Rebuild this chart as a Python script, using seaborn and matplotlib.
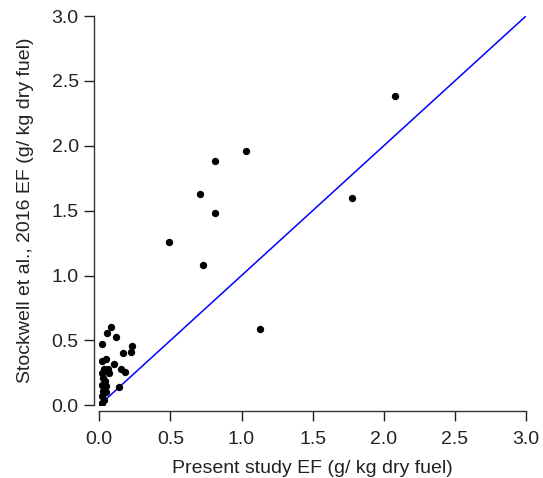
import pandas as pd
import matplotlib
matplotlib.use('Agg')
import matplotlib.pyplot as plt
import seaborn as sns

# Present study EF vs Stockwell et al. 2016 EF (g/ kg dry fuel)
present_ef = [2.08, 1.78, 1.13, 1.03, 0.81, 0.81, 0.71, 0.73, 0.49,
              0.08, 0.056, 0.12, 0.02, 0.23, 0.22, 0.17, 0.044, 0.016,
              0.105, 0.03, 0.063, 0.15, 0.18, 0.016, 0.07, 0.026, 0.04,
              0.016, 0.05, 0.14, 0.026, 0.044, 0.02, 0.03, 0.016, 0.01]
stockwell_ef = [2.38, 1.60, 0.59, 1.96, 1.88, 1.48, 1.63, 1.08, 1.26,
                0.60, 0.56, 0.53, 0.47, 0.46, 0.41, 0.40, 0.36, 0.34,
                0.32, 0.28, 0.28, 0.28, 0.26, 0.25, 0.25, 0.21, 0.19,
                0.16, 0.15, 0.14, 0.11, 0.10, 0.07, 0.04, 0.015, 0.0]
one_to_one = [0, 3]
ticks = [0.0, 0.5, 1.0, 1.5, 2.0, 2.5, 3.0]

df = pd.DataFrame({'present': present_ef, 'stockwell': stockwell_ef})

sns.set_style('ticks')
plt.rcParams['font.family'] = ['Liberation Sans', 'DejaVu Sans']

fig = plt.figure(figsize=(5.43, 4.78), dpi=100)
ax = fig.add_axes([99.3 / 543, 72.7 / 478, 426.7 / 543, 389.3 / 478])

sns.lineplot(x=one_to_one, y=one_to_one, color='#0000ff', linewidth=1.1, ax=ax)
sns.scatterplot(data=df, x='present', y='stockwell', color='black', s=28,
                edgecolor='black', linewidth=0, ax=ax, zorder=3)

ax.set_xlim(0, 3)
ax.set_ylim(0, 3)
ax.set_xticks(ticks)
ax.set_yticks(ticks)
ax.set_xticklabels([f'{t:.1f}' for t in ticks])
ax.set_yticklabels([f'{t:.1f}' for t in ticks])
ax.tick_params(labelsize=14, length=7.2, width=1, direction='out', colors='#222222')
ax.tick_params(axis='x', pad=7)
ax.tick_params(axis='y', pad=4)
ax.spines['left'].set_position(('outward', 3.6))
ax.spines['bottom'].set_position(('outward', 4.3))
sns.despine(ax=ax)
for s in ['left', 'bottom']:
    ax.spines[s].set_color('#333333')
    ax.spines[s].set_linewidth(1.0)

ax.set_xlabel('Present study EF (g/ kg dry fuel)', fontsize=14, color='#222222', labelpad=8.5)
ax.set_ylabel('Stockwell et al., 2016 EF (g/ kg dry fuel)', fontsize=14, color='#222222', labelpad=12.5)

fig.savefig('out.png', dpi=100)
